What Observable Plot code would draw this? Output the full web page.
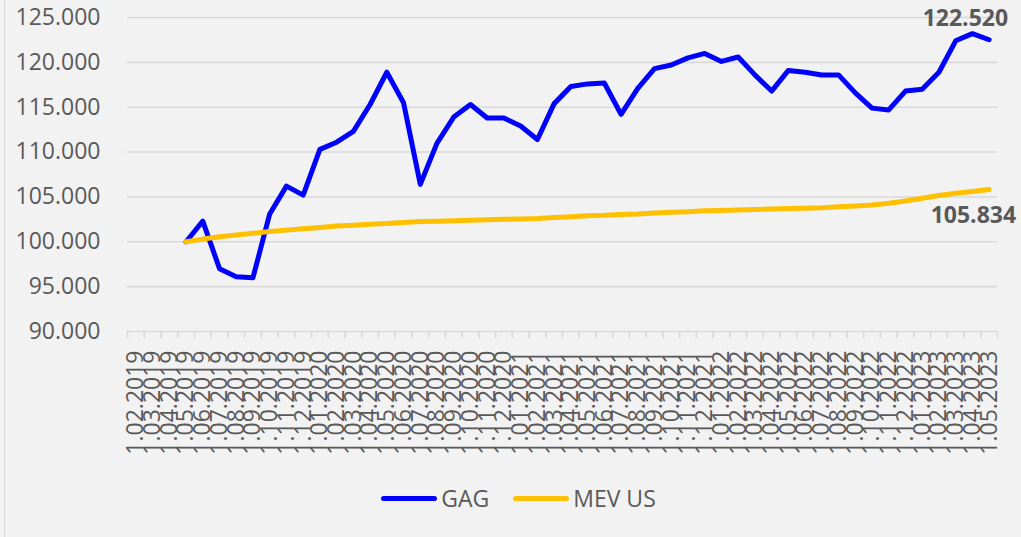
<!DOCTYPE html>
<html>
<head>
<meta charset="utf-8">
<script src="https://cdn.jsdelivr.net/npm/d3@7"></script>
<script src="https://cdn.jsdelivr.net/npm/@observablehq/plot@0.6"></script>
<style>
  html, body { margin: 0; padding: 0; background: #f2f2f2; }
  body { width: 1021px; height: 537px; position: relative; overflow: hidden; font-family: "Open Sans", sans-serif; }
  #frame { position: absolute; left: 4px; top: -2px; width: 1040px; height: 560px; border: 1px solid #d9d9d9; box-sizing: border-box; pointer-events: none; }
  #chart { position: absolute; left: 0; top: 0; }
  #legend { position: absolute; left: 0; top: 482px; width: 1021px; display: flex; justify-content: center; align-items: center; gap: 24px; color: #595959; font-size: 23px; padding-left: 16px; box-sizing: border-box; }
  .item { display: flex; align-items: center; gap: 4px; }
  .sw { width: 56px; height: 5px; border-radius: 3px; }
</style>
</head>
<body>
<div id="frame"></div>
<div id="chart"></div>
<div id="legend"></div>
<script>
const months = [
  "1.02.2019","1.03.2019","1.04.2019","1.05.2019","1.06.2019","1.07.2019","1.08.2019","1.09.2019","1.10.2019","1.11.2019","1.12.2019",
  "1.01.2020","1.02.2020","1.03.2020","1.04.2020","1.05.2020","1.06.2020","1.07.2020","1.08.2020","1.09.2020","1.10.2020","1.11.2020","1.12.2020",
  "1.01.2021","1.02.2021","1.03.2021","1.04.2021","1.05.2021","1.06.2021","1.07.2021","1.08.2021","1.09.2021","1.10.2021","1.11.2021","1.12.2021",
  "1.01.2022","1.02.2022","1.03.2022","1.04.2022","1.05.2022","1.06.2022","1.07.2022","1.08.2022","1.09.2022","1.10.2022","1.11.2022","1.12.2022",
  "1.01.2023","1.02.2023","1.03.2023","1.04.2023","1.05.2023"
];
// series start at 1.05.2019
const seriesMonths = months.slice(3);
const gag = [
  100.0, 102.3, 97.0, 96.1, 96.0, 103.1, 106.2, 105.2,
  110.3, 111.1, 112.3, 115.3, 118.9, 115.5, 106.4, 111.0, 113.9, 115.3, 113.8, 113.8,
  112.9, 111.4, 115.4, 117.3, 117.6, 117.7, 114.2, 117.1, 119.3, 119.7, 120.5, 121.0,
  120.1, 120.6, 118.6, 116.8, 119.1, 118.9, 118.6, 118.6, 116.6, 114.9, 114.7, 116.8,
  117.0, 118.9, 122.4, 123.2, 122.52
];
const mev = [
  100.0, 100.3, 100.55, 100.75, 100.95, 101.15, 101.3, 101.45,
  101.6, 101.75, 101.85, 101.95, 102.05, 102.15, 102.25, 102.3, 102.35, 102.4, 102.45, 102.5,
  102.55, 102.6, 102.7, 102.8, 102.9, 102.95, 103.05, 103.1, 103.2, 103.3, 103.35, 103.45,
  103.5, 103.55, 103.6, 103.65, 103.7, 103.75, 103.8, 103.9, 104.0, 104.1, 104.3, 104.55,
  104.85, 105.15, 105.4, 105.6, 105.834
];
const yTicks = [90, 95, 100, 105, 110, 115, 120, 125];
const seriesNames = ["GAG", "MEV US"];
const seriesColors = ["#0000ff", "#ffc000"];

const gagData = seriesMonths.map((m, i) => ({month: m, value: gag[i]}));
const mevData = seriesMonths.map((m, i) => ({month: m, value: mev[i]}));

const W = 1021, H = 470, ML = 127, MR = 24, MT = 17, MB = 139;
const step = (W - ML - MR) / months.length;
const grey = "#d9d9d9";

const chart = Plot.plot({
  width: W, height: H,
  marginLeft: ML, marginRight: MR, marginTop: MT, marginBottom: MB,
  x: {type: "point", domain: months, padding: 0.5, label: null},
  y: {domain: [90, 125], label: null},
  style: {fontFamily: "Open Sans", fontSize: "23px", color: "#595959", background: "transparent", overflow: "visible"},
  marks: [
    Plot.gridY(yTicks, {stroke: grey, strokeOpacity: 1, strokeWidth: 1.6}),
    Plot.ruleX(months, {x: d => d, y1: 90, y2: 89.2, dx: -step / 2, stroke: grey, strokeWidth: 1.6}),
    Plot.ruleX(months.slice(-1), {x: d => d, y1: 90, y2: 89.2, dx: step / 2, stroke: grey, strokeWidth: 1.6}),
    Plot.axisY(yTicks, {tickSize: 0, tickPadding: 27, tickFormat: d => d.toFixed(3), fontSize: 23, label: null}),
    Plot.axisX({tickSize: 0, tickPadding: 19, tickRotate: -90, fontSize: 23, label: null}),
    Plot.line(gagData, {x: "month", y: "value", stroke: seriesColors[0], strokeWidth: 5, strokeLinejoin: "round", strokeLinecap: "round"}),
    Plot.line(mevData, {x: "month", y: "value", stroke: seriesColors[1], strokeWidth: 5, strokeLinejoin: "round", strokeLinecap: "round"}),
    Plot.text(gagData.slice(-1), {x: "month", y: "value", text: d => d.value.toFixed(3), textAnchor: "end", dx: 19, dy: -21, fontWeight: "bold", fontSize: 23, fill: "#595959"}),
    Plot.text(mevData.slice(-1), {x: "month", y: "value", text: d => d.value.toFixed(3), textAnchor: "end", dx: 27, dy: 26, fontWeight: "bold", fontSize: 23, fill: "#595959"})
  ]
});
document.getElementById("chart").appendChild(chart);

const legend = document.getElementById("legend");
seriesNames.forEach((name, i) => {
  const item = document.createElement("div");
  item.className = "item";
  const sw = document.createElement("div");
  sw.className = "sw";
  sw.style.background = seriesColors[i];
  const label = document.createElement("span");
  label.textContent = name;
  item.appendChild(sw);
  item.appendChild(label);
  legend.appendChild(item);
});
</script>
</body>
</html>
